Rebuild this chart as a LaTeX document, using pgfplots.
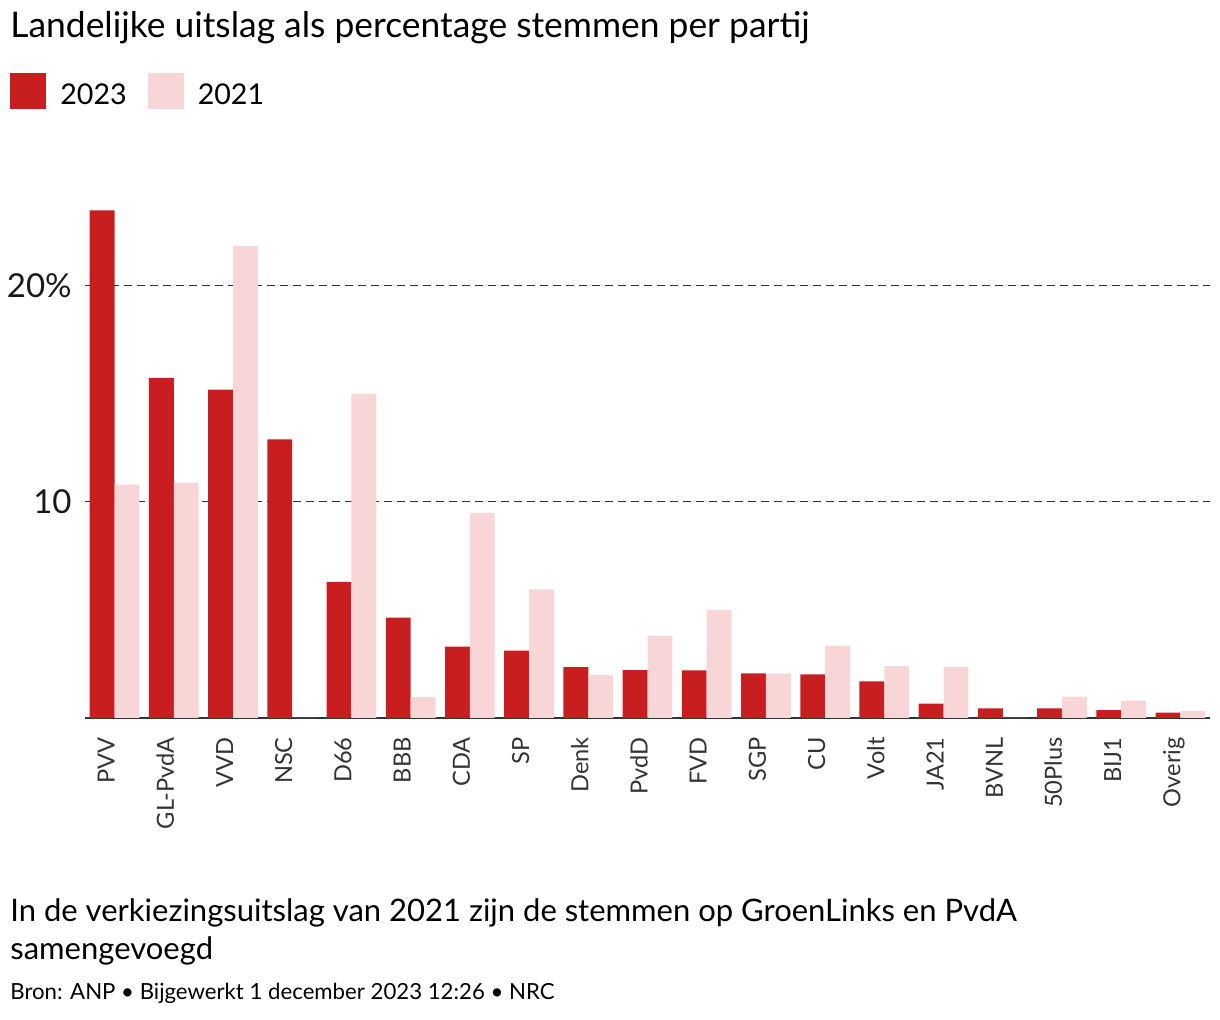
\documentclass[border=0pt]{standalone}
\usepackage{fontspec}
\setmainfont{Lato}
\usepackage{pgfplots}
\usepackage{pgfplotstable}
\pgfplotsset{compat=1.18}
\definecolor{red23}{HTML}{C81E1F}
\definecolor{pink21}{HTML}{F8D5D6}
\definecolor{axgray}{HTML}{333333}
\pgfplotstableread{
x label v23 v21
0 PVV 23.5 10.8
1 GL-PvdA 15.75 10.9
2 VVD 15.2 21.85
3 NSC 12.9 0
4 D66 6.3 15.0
5 BBB 4.65 0.97
6 CDA 3.3 9.5
7 SP 3.12 5.95
8 Denk 2.35 1.98
9 PvdD 2.22 3.8
10 FVD 2.2 5.0
11 SGP 2.06 2.05
12 CU 2.02 3.35
13 Volt 1.7 2.4
14 JA21 0.66 2.36
15 BVNL 0.45 0
16 50Plus 0.45 0.99
17 BIJ1 0.36 0.8
18 Overig 0.25 0.32
}\data
\begin{document}
\begin{tikzpicture}
\useasboundingbox (0,0) rectangle (610pt,510pt);
\node[anchor=base west, inner sep=0pt, font=\fontsize{17.7}{20}\selectfont] at (5pt,491pt) {Landelijke uitslag als percentage stemmen per partij};
\begin{axis}[
  at={(42.5pt,151pt)}, anchor=south west,
  scale only axis, width=562.5pt, height=259.2pt,
  xmin=-0.5, xmax=18.5, ymin=0, ymax=24,
  axis x line*=bottom, axis y line*=left,
  x axis line style={color=axgray, line width=1pt},
  y axis line style={draw=none},
  major tick length=0pt,
  xtick={0,...,18},
  xticklabels from table={\data}{label},
  xticklabel style={yshift=-9.5pt, rotate=90, anchor=base east, inner sep=0pt, font=\fontsize{11.8}{13}\selectfont, color=axgray},
  ytick={10,20}, yticklabels={10,20\%},
  yticklabel style={anchor=east, inner sep=0pt, xshift=-6.5pt, font=\fontsize{16.5}{19}\selectfont, color=black!90},
  ymajorgrids, grid style={color=axgray, line width=0.5pt, dash pattern=on 4pt off 2.5pt},
  legend columns=-1,
  legend image code/.code={\fill[#1] (0pt,-7pt) rectangle (18pt,11pt);},
  legend style={draw=none, fill=none, inner sep=0pt, at={(-0.066667,1.20853)}, anchor=west,
    font=\fontsize{14.3}{16}\selectfont,
    nodes={inner sep=0pt},
    /tikz/every odd column/.append style={column sep=7pt},
    /tikz/every even column/.append style={column sep=10.5pt}},
]
\addplot[ybar, bar width=0.42, bar shift=-0.21, fill=red23, draw=none] table[x=x, y=v23] {\data};
\addlegendentry{2023}
\addplot[ybar, bar width=0.42, bar shift=0.21, fill=pink21, draw=none] table[x=x, y=v21] {\data};
\addlegendentry{2021}
\end{axis}
\node[anchor=base west, inner sep=0pt, font=\fontsize{15.5}{18}\selectfont] at (5pt,49pt) {In de verkiezingsuitslag van 2021 zijn de stemmen op GroenLinks en PvdA};
\node[anchor=base west, inner sep=0pt, font=\fontsize{15.5}{18}\selectfont] at (5pt,30pt) {samengevoegd};
\node[anchor=base west, inner sep=0pt, font=\fontsize{11.1}{13}\selectfont] at (5pt,10pt) {Bron: ANP \textbullet{} Bijgewerkt 1 december 2023 12:26 \textbullet{} NRC};
\end{tikzpicture}
\end{document}
